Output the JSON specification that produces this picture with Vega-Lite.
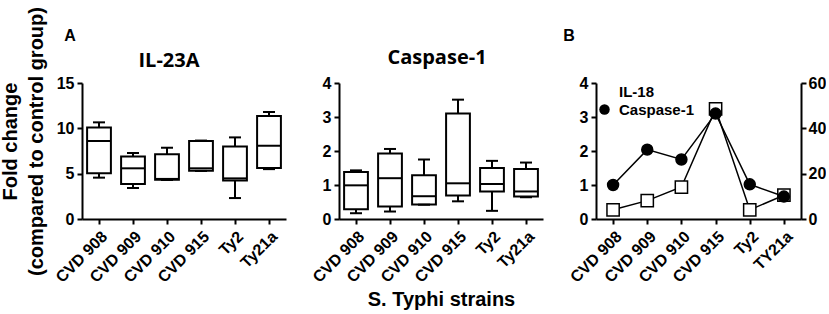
{
  "$schema": "https://vega.github.io/schema/vega-lite/v6.json",
  "padding": {"left": 0, "top": 6, "right": 0, "bottom": 0},
  "title": {"text": "A", "anchor": "start", "dx": 64, "fontSize": 16, "font": "Liberation Sans", "fontWeight": "bold", "color": "black", "offset": -37},
  "datasets": {
    "il23": [
      {"strain": "CVD 908", "min": 4.56, "q1": 5.04, "median": 8.6, "q3": 10.1, "max": 10.66},
      {"strain": "CVD 909", "min": 3.42, "q1": 3.86, "median": 5.59, "q3": 6.9, "max": 7.28},
      {"strain": "CVD 910", "min": 4.3, "q1": 4.32, "median": 4.42, "q3": 7.13, "max": 7.86},
      {"strain": "CVD 915", "min": 5.3, "q1": 5.33, "median": 5.59, "q3": 8.6, "max": 8.65},
      {"strain": "Ty2", "min": 2.31, "q1": 4.26, "median": 4.48, "q3": 8.0, "max": 9.0},
      {"strain": "Ty21a", "min": 5.5, "q1": 5.62, "median": 8.08, "q3": 11.36, "max": 11.8}
    ],
    "casp": [
      {"strain": "CVD 908", "min": 0.17, "q1": 0.29, "median": 0.99, "q3": 1.38, "max": 1.43},
      {"strain": "CVD 909", "min": 0.22, "q1": 0.37, "median": 1.2, "q3": 1.93, "max": 2.06},
      {"strain": "CVD 910", "min": 0.42, "q1": 0.43, "median": 0.67, "q3": 1.29, "max": 1.75},
      {"strain": "CVD 915", "min": 0.52, "q1": 0.69, "median": 1.05, "q3": 3.1, "max": 3.51},
      {"strain": "Ty2", "min": 0.24, "q1": 0.81, "median": 1.03, "q3": 1.5, "max": 1.71},
      {"strain": "Ty21a", "min": 0.64, "q1": 0.66, "median": 0.81, "q3": 1.47, "max": 1.66}
    ],
    "panelb": [
      {"strain": "CVD 908", "series": "IL-18", "value": 4.05},
      {"strain": "CVD 909", "series": "IL-18", "value": 8.1},
      {"strain": "CVD 910", "series": "IL-18", "value": 14.1},
      {"strain": "CVD 915", "series": "IL-18", "value": 48.6},
      {"strain": "Ty2", "series": "IL-18", "value": 4.05},
      {"strain": "TY21a", "series": "IL-18", "value": 10.5},
      {"strain": "CVD 908", "series": "Caspase-1", "value": 1.0},
      {"strain": "CVD 909", "series": "Caspase-1", "value": 2.04},
      {"strain": "CVD 910", "series": "Caspase-1", "value": 1.75},
      {"strain": "CVD 915", "series": "Caspase-1", "value": 3.1},
      {"strain": "Ty2", "series": "Caspase-1", "value": 1.02},
      {"strain": "TY21a", "series": "Caspase-1", "value": 0.66}
    ]
  },
  "bounds": "flush",
  "spacing": 53,
  "resolve": {"legend": {"shape": "independent", "fill": "independent"}},
  "hconcat": [
    {
      "width": 204, "height": 136,
      "title": {"text": "IL-23A", "font": "Open Sans", "fontSize": 20, "offset": 8, "dx": -15, "dy": 72},
      "data": {"name": "il23"},
      "encoding": {"x": {"field": "strain", "type": "nominal", "sort": null, "scale": {"paddingInner": 0, "paddingOuter": 0}, "axis": {"title": null}}},
      "layer": [
        {"mark": {"type": "rule", "color": "black", "strokeWidth": 2}, "encoding": {"y": {"field": "min", "type": "quantitative", "scale": {"domain": [0, 15], "nice": false}, "axis": {"values": [0, 5, 10, 15], "title": ["Fold change", "(compared to control group)"], "titleLineHeight": 26, "titlePadding": 10, "titleY": 58}}, "y2": {"field": "q1"}}},
        {"mark": {"type": "rule", "color": "black", "strokeWidth": 2}, "encoding": {"y": {"field": "q3", "type": "quantitative"}, "y2": {"field": "max"}}},
        {"mark": {"type": "bar", "fill": "white", "stroke": "black", "strokeWidth": 2, "width": {"band": 0.7}}, "encoding": {"y": {"field": "q1", "type": "quantitative"}, "y2": {"field": "q3"}}},
        {"mark": {"type": "tick", "color": "black", "opacity": 1, "thickness": 2, "size": 24}, "encoding": {"y": {"field": "median", "type": "quantitative"}}},
        {"mark": {"type": "tick", "color": "black", "opacity": 1, "thickness": 2, "size": 12}, "encoding": {"y": {"field": "min", "type": "quantitative"}}},
        {"mark": {"type": "tick", "color": "black", "opacity": 1, "thickness": 2, "size": 12}, "encoding": {"y": {"field": "max", "type": "quantitative"}}}
      ]
    },
    {
      "width": 204, "height": 136,
      "title": {"text": "Caspase-1", "font": "Open Sans", "fontSize": 20, "offset": 7, "dx": -4},
      "data": {"name": "casp"},
      "encoding": {"x": {"field": "strain", "type": "nominal", "sort": null, "scale": {"paddingInner": 0, "paddingOuter": 0}, "axis": {"title": "S. Typhi strains", "titlePadding": 4}}},
      "layer": [
        {"mark": {"type": "rule", "color": "black", "strokeWidth": 2}, "encoding": {"y": {"field": "min", "type": "quantitative", "scale": {"domain": [0, 4], "nice": false}, "axis": {"values": [0, 1, 2, 3, 4], "tickCount": 5, "title": null}}, "y2": {"field": "q1"}}},
        {"mark": {"type": "rule", "color": "black", "strokeWidth": 2}, "encoding": {"y": {"field": "q3", "type": "quantitative", "axis": {"values": [0, 1, 2, 3, 4], "tickCount": 5, "title": null}}, "y2": {"field": "max"}}},
        {"mark": {"type": "bar", "fill": "white", "stroke": "black", "strokeWidth": 2, "width": {"band": 0.7}}, "encoding": {"y": {"field": "q1", "type": "quantitative", "axis": {"values": [0, 1, 2, 3, 4], "tickCount": 5, "title": null}}, "y2": {"field": "q3"}}},
        {"mark": {"type": "tick", "color": "black", "opacity": 1, "thickness": 2, "size": 24}, "encoding": {"y": {"field": "median", "type": "quantitative", "axis": {"values": [0, 1, 2, 3, 4], "tickCount": 5, "title": null}}}},
        {"mark": {"type": "tick", "color": "black", "opacity": 1, "thickness": 2, "size": 12}, "encoding": {"y": {"field": "min", "type": "quantitative", "axis": {"values": [0, 1, 2, 3, 4], "tickCount": 5, "title": null}}}},
        {"mark": {"type": "tick", "color": "black", "opacity": 1, "thickness": 2, "size": 12}, "encoding": {"y": {"field": "max", "type": "quantitative", "axis": {"values": [0, 1, 2, 3, 4], "tickCount": 5, "title": null}}}}
      ]
    },
    {
      "width": 205, "height": 136,
      "title": {"text": "B", "anchor": "start", "fontSize": 16, "font": "Liberation Sans", "offset": 31, "dx": -4},
      "data": {"name": "panelb"},
      "encoding": {
        "x": {"field": "strain", "type": "nominal", "sort": null, "scale": {"paddingInner": 0, "paddingOuter": 0}, "axis": {"title": null}},
        "shape": {"field": "series", "type": "nominal", "scale": {"domain": ["IL-18", "Caspase-1"], "range": ["square", "circle"]}, "legend": {"title": null, "orient": "top-left", "offset": 1, "padding": 0, "labelFontSize": 15, "labelFontWeight": "bold", "labelFont": "Liberation Sans", "labelColor": "black", "symbolSize": 110, "symbolStrokeColor": "black", "symbolStrokeWidth": 1.5, "rowPadding": 1, "labelOffset": 7}},
        "fill": {"field": "series", "type": "nominal", "scale": {"domain": ["IL-18", "Caspase-1"], "range": ["white", "black"]}, "legend": {"title": null, "orient": "top-left", "offset": 1, "padding": 0, "labelFontSize": 15, "labelFontWeight": "bold", "labelFont": "Liberation Sans", "labelColor": "black", "symbolSize": 110, "symbolStrokeColor": "black", "symbolStrokeWidth": 1.5, "rowPadding": 1, "labelOffset": 7}}
      },
      "layer": [
        {
          "transform": [{"filter": "datum.series === 'IL-18'"}],
          "encoding": {"y": {"field": "value", "type": "quantitative", "scale": {"domain": [0, 60], "nice": false}, "axis": {"orient": "right", "values": [0, 20, 40, 60], "title": null, "labelPadding": 2}}},
          "layer": [
            {"mark": {"type": "line", "color": "black", "strokeWidth": 1.5}, "encoding": {"shape": null, "fill": null}},
            {"mark": {"type": "point", "stroke": "black", "strokeWidth": 1.5, "opacity": 1, "size": 150}}
          ]
        },
        {
          "transform": [{"filter": "datum.series === 'Caspase-1'"}],
          "encoding": {"y": {"field": "value", "type": "quantitative", "scale": {"domain": [0, 4], "nice": false}, "axis": {"orient": "left", "values": [0, 1, 2, 3, 4], "title": null}}},
          "layer": [
            {"mark": {"type": "line", "color": "black", "strokeWidth": 1.5}, "encoding": {"shape": null, "fill": null}},
            {"mark": {"type": "point", "stroke": "black", "strokeWidth": 1.5, "opacity": 1, "size": 120}}
          ]
        }
      ],
      "resolve": {"scale": {"y": "independent"}, "axis": {"y": "independent"}}
    }
  ],
  "config": {
    "font": "Liberation Sans",
    "view": {"stroke": null},
    "axis": {"domainColor": "black", "domainWidth": 2, "tickColor": "black", "tickWidth": 2, "tickSize": 5, "labelFont": "Liberation Sans", "labelFontWeight": "bold", "labelFontSize": 16, "labelColor": "black", "grid": false, "titleFont": "Liberation Sans", "titleFontWeight": "bold", "titleFontSize": 20, "titleColor": "black", "labelPadding": 3, "labelOverlap": false},
    "axisX": {"labelAngle": -45, "labelPadding": 4},
    "title": {"font": "Liberation Sans", "fontWeight": "bold", "color": "black"}
  }
}
